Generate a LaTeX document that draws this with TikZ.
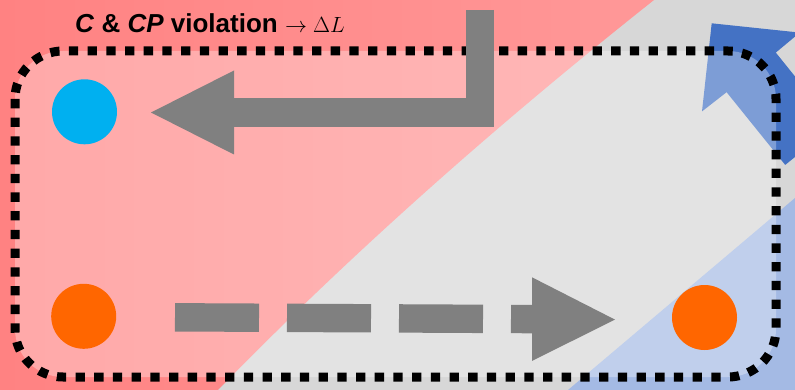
\RequirePackage{fix-cm}
\documentclass[tikz,border=0pt]{standalone}
\usepackage[no-math]{fontspec}
\setmainfont{Liberation Sans}
\definecolor{redL}{RGB}{255,130,130}
\definecolor{redR}{RGB}{255,152,152}
\definecolor{greyBG}{RGB}{215,215,215}
\definecolor{blueBG}{RGB}{164,186,228}
\definecolor{arrowBlue}{RGB}{68,114,196}
\definecolor{cyanDot}{RGB}{0,176,240}
\definecolor{orangeDot}{RGB}{255,102,0}
\definecolor{arrowGrey}{RGB}{128,128,128}
\tikzset{
  particle/.style={circle, inner sep=0pt, minimum size=65pt},
  frameline/.style={line width=9pt, dash pattern=on 9.3pt off 9.4pt, rounded corners=48pt},
  blockshaft/.style={arrowGrey, line width=28.4pt},
}
\begin{document}
\begin{tikzpicture}[x=1pt,y=-1pt]
\useasboundingbox (0,0) rectangle (795,390);
\clip (0,0) rectangle (795,390);
% background regions
\fill[greyBG] (0,0) rectangle (795,390);
\shade[left color=redL,right color=redR] (0,0) -- (654,0) .. controls (490,130) and (344.7,260) .. (218,390) -- (0,390) -- cycle;
\fill[blueBG] (795,198) -- (568,390) -- (795,390) -- cycle;
% blue arrow (under the veil)
\fill[arrowBlue] (711.7,23.3) -- (799.8,32.6) -- (775.8,52.6) -- (834.4,125.3) -- (785.2,164.9) -- (726.6,92.2) -- (702,111.4) -- cycle;
% white veil and dotted frame
\fill[white,opacity=0.31,rounded corners=48pt] (15,51) rectangle (776,377);
\draw[frameline] (15,51) rectangle (776,377);
% particles
\node[particle, fill=cyanDot] (nu) at (84.5,111.8) {};
\node[particle, fill=orangeDot] (o1) at (83.7,316.3) {};
\node[particle, fill=orangeDot] (o2) at (704.5,317.5) {};
% L-shaped arrow
\coordinate (ls) at (480,10);
\coordinate (lb) at (234,112.5);
\coordinate (lt) at (151,112.5);
\draw[blockshaft] (ls) |- (lb);
\fill[arrowGrey] (lt) -- ([yshift=-42pt]lb) -- ([yshift=42pt]lb) -- cycle;
% dashed arrow
\coordinate (ds) at (175,317.3);
\coordinate (db) at (532,319.1);
\coordinate (dt) at (615,319.6);
\draw[blockshaft, dash pattern=on 84pt off 28pt] (ds) -- (db);
\fill[arrowGrey] (dt) -- ([yshift=-41.8pt]db) -- ([yshift=41.8pt]db) -- cycle;
% title
\node[anchor=base west, inner sep=0pt, font=\bfseries\fontsize{26}{28}\selectfont] (title) at (75,33)
  {\textit{C} \& \textit{CP} violation {\fontsize{22}{24}\selectfont$\rightarrow\Delta L$}};
\end{tikzpicture}
\end{document}
